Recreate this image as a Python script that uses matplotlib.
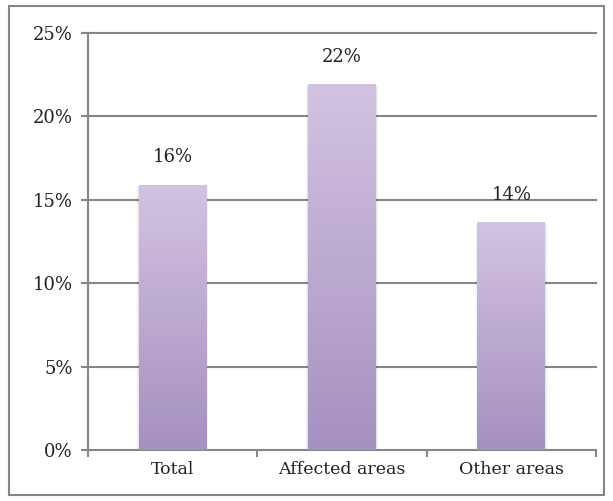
import matplotlib
matplotlib.use("Agg")
import matplotlib.pyplot as plt
import numpy as np
from matplotlib.patches import Rectangle
from matplotlib.colors import LinearSegmentedColormap

categories = ["Total", "Affected areas", "Other areas"]
values = [15.9, 21.95, 13.65]
labels = ["16%", "22%", "14%"]
yticks = [0, 5, 10, 15, 20, 25]

plt.rcParams['font.family'] = ['DejaVu Serif']

fig = plt.figure(figsize=(6.13, 5.01), dpi=100)
ax = fig.add_axes([88/613, 1 - 450/501, (596-88)/613, (450-33)/501])

grid_c = "#868686"
txt_c = "#222222"
x = np.arange(len(categories))
bars = ax.bar(x, values, width=0.4, color="none", edgecolor="none", zorder=3)

grad = np.linspace(0, 1, 256).reshape(-1, 1)
cmap = LinearSegmentedColormap.from_list("g", ["#A491C0", "#D3C3E1"])
for b in bars:
    x0, w, h = b.get_x(), b.get_width(), b.get_height()
    for i, a in enumerate([0.05, 0.03, 0.015]):
        s = Rectangle((x0 - 0.005*(i+1), 0), w + 0.01*(i+1), h - 0.05*(i+1),
                      facecolor="#000000", alpha=a, edgecolor="none", zorder=2.5)
        ax.add_patch(s)
    im = ax.imshow(grad, cmap=cmap, extent=[x0, x0 + w, 0, h], origin="lower",
                   aspect="auto", zorder=3)
    im.set_clip_path(b)

for xi, v, lab in zip(x, values, labels):
    ax.text(xi, v + 1.1, lab, ha="center", va="bottom", fontsize=13, color=txt_c, zorder=4)

ax.set_xlim(-0.5, 2.5)
ax.set_ylim(0, 25)
ax.set_yticks(yticks)
ax.set_yticklabels([f"{t}%" for t in yticks], fontsize=13, color=txt_c)
for t in yticks[1:]:
    ax.axhline(t, color=grid_c, linewidth=1.5, zorder=1, clip_on=False)

ax.set_xticks(x)
ax.set_xticklabels(categories, fontsize=12.5, color=txt_c)
ax.set_xticks([-0.5, 0.5, 1.5, 2.5], minor=True)
ax.tick_params(axis="x", which="major", length=0, pad=8)
ax.tick_params(axis="x", which="minor", length=5, width=1.5, color=grid_c, direction="out")
ax.tick_params(axis="y", length=5, width=1.5, color=grid_c, direction="out", pad=6)

for s in ["top", "right"]:
    ax.spines[s].set_visible(False)
for s in ["left", "bottom"]:
    ax.spines[s].set_color(grid_c)
    ax.spines[s].set_linewidth(1.5)

fig.patches.append(Rectangle((9/613, 1 - 495/501), (604-9)/613, (495-6)/501,
                             transform=fig.transFigure, fill=False,
                             edgecolor="#868686", linewidth=1.5))

fig.savefig("out.png", dpi=100)
